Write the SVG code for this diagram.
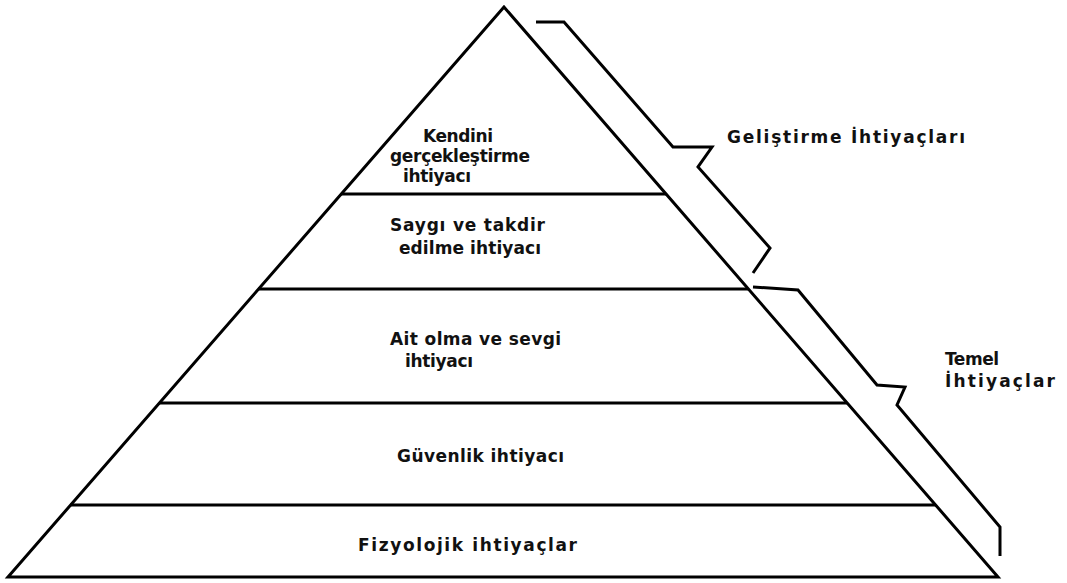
<svg xmlns="http://www.w3.org/2000/svg" width="1067" height="583" viewBox="0 0 1067 583">
<style>
.ln{stroke:#000;stroke-width:3;fill:none;stroke-linejoin:miter;stroke-linecap:butt}
.t{font-family:"DejaVu Sans","Open Sans",sans-serif;font-weight:bold;font-size:17px;fill:#111}
</style>
<rect x="0" y="0" width="1067" height="583" fill="#fff"/>
<g id="pyramid">
<polygon class="ln" points="504,7 8,577 998,577"/>
</g>
<g id="level5">
<text class="t" x="423" y="142" textLength="70" lengthAdjust="spacing">Kendini</text>
<text class="t" x="390" y="162" textLength="140" lengthAdjust="spacing">gerçekleştirme</text>
<text class="t" x="403" y="182" textLength="68" lengthAdjust="spacing">ihtiyacı</text>
</g>
<g id="level4">
<line class="ln" x1="341" y1="194" x2="666" y2="194"/>
<text class="t" x="390" y="231" textLength="155" lengthAdjust="spacing">Saygı ve takdir</text>
<text class="t" x="399" y="254" textLength="142" lengthAdjust="spacing">edilme ihtiyacı</text>
</g>
<g id="level3">
<line class="ln" x1="258" y1="289" x2="748" y2="289"/>
<text class="t" x="390" y="345" textLength="171" lengthAdjust="spacing">Ait olma ve sevgi</text>
<text class="t" x="405" y="367" textLength="68" lengthAdjust="spacing">ihtiyacı</text>
</g>
<g id="level2">
<line class="ln" x1="159" y1="403" x2="847" y2="403"/>
<text class="t" x="397" y="462" textLength="167" lengthAdjust="spacing">Güvenlik ihtiyacı</text>
</g>
<g id="level1">
<line class="ln" x1="70" y1="505" x2="936" y2="505"/>
<text class="t" x="358" y="551" textLength="219" lengthAdjust="spacing">Fizyolojik ihtiyaçlar</text>
</g>
<g id="connectors">
<polyline class="ln" points="536,22 564,22 673,147 712,147 698,167 770,248 753,273"/>
<polyline class="ln" points="753,287 798,290 877,385 905,387 897,405 1000,527 1000,556"/>
</g>
<g id="label-gelistirme">
<text class="t" x="727" y="143" textLength="238" lengthAdjust="spacing">Geliştirme İhtiyaçları</text>
</g>
<g id="label-temel">
<text class="t" x="945" y="365" textLength="54" lengthAdjust="spacing">Temel</text>
<text class="t" x="945" y="387" textLength="110" lengthAdjust="spacing">İhtiyaçlar</text>
</g>
</svg>
